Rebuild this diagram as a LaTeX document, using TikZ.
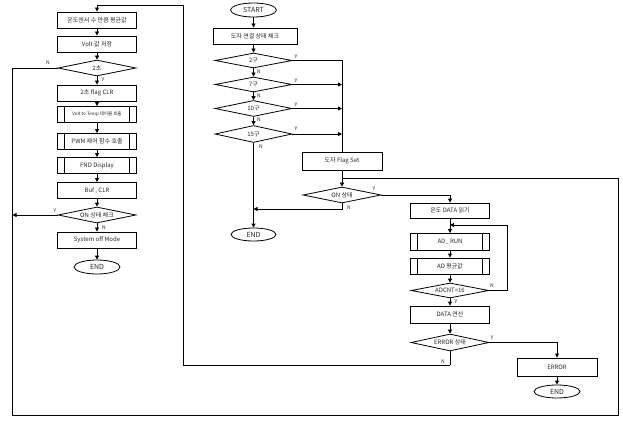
\documentclass[tikz,border=0pt]{standalone}
\usepackage{fontspec}
\setmainfont{Noto Sans CJK KR}
\usetikzlibrary{shapes.geometric,arrows.meta}
\begin{document}
\begin{tikzpicture}[x=1pt,y=-1pt,
  every node/.style={font=\fontsize{6}{7}\selectfont, text=black!85},
  box/.style={draw, line width=0.9pt, minimum width=79pt, minimum height=16pt, inner sep=1pt},
  sub/.style={box, path picture={\draw[line width=0.9pt]
      ([xshift=7pt]path picture bounding box.north west) -- ([xshift=7pt]path picture bounding box.south west)
      ([xshift=-7pt]path picture bounding box.north east) -- ([xshift=-7pt]path picture bounding box.south east);}},
  dia/.style={draw, line width=0.8pt, diamond, aspect=5, minimum width=78pt, minimum height=16pt, inner sep=0pt},
  term/.style={draw, line width=0.8pt, ellipse, minimum width=46pt, minimum height=14pt, inner sep=0pt, font=\fontsize{7}{8}\selectfont},
  con/.style={line width=0.8pt},
  arr/.style={con, -{Triangle[length=4pt,width=4pt]}},
  lab/.style={font=\fontsize{5}{6}\selectfont, inner sep=0pt}
]
\useasboundingbox (0,0) rectangle (623,422);
% left column
\node[box] (l1) at (97,20) {온도센서 수 만큼 평균값};
\node[box] (l2) at (97,44) {Volt 값 저장};
\node[dia] (ld1) at (97,68) {2초};
\node[box] (l3) at (97,93) {2초 flag CLR};
\node[sub, font=\fontsize{4.5}{5}\selectfont] (l4) at (97,114.5) {Volt to Temp 테이블 호출};
\node[sub] (l5) at (97,141.5) {PWM 제어 함수 호출};
\node[sub] (l6) at (97,165.5) {FND Display};
\node[box] (l7) at (97,190.5) {Buf , CLR};
\node[dia] (ld2) at (97,215) {ON 상태 체크};
\node[box] (l8) at (97,240) {System off Mode};
\node[term] (lend) at (97,267) {END};
% middle column
\node[term] (start) at (253.5,10) {START};
\node[box, minimum width=84pt] (m1) at (255,36) {도자 연결 상태 체크};
\node[dia, minimum width=77pt, minimum height=15pt] (d2) at (253.5,60.5) {2구};
\node[dia, minimum width=77pt, minimum height=15pt] (d7) at (253.5,84.5) {7구};
\node[dia, minimum width=77pt, minimum height=16pt] (d10) at (253.5,108.5) {10구};
\node[dia, minimum width=77pt, minimum height=17pt] (d15) at (253.5,134) {15구};
\node[term, minimum width=45pt, minimum height=13pt] (mend) at (253.5,234.5) {END};
\node[box, minimum width=80pt, minimum height=18pt] (flag) at (342,161) {도자 Flag Set};
\node[dia] (on) at (342,195) {ON 상태};
% right column
\node[box, minimum height=15pt] (r1) at (450,210.5) {온도 DATA 읽기};
\node[sub, minimum height=17pt] (r2) at (450,242) {AD\_ RUN};
\node[sub] (r3) at (450,266) {AD 평균값};
\node[dia, minimum height=15pt] (r4) at (450,290.5) {ADCNT=16};
\node[box, minimum height=17pt] (r5) at (450,314.5) {DATA 연산};
\node[dia, minimum height=17pt] (r6) at (450,342.5) {ERROR 상태};
\node[box, minimum width=80pt, minimum height=18pt] (r7) at (557,367) {ERROR};
\node[term, minimum height=13pt] (rend) at (557,391.5) {END};
% coordinates
\coordinate (jy2) at (342,60.5);
\coordinate (jy7) at (342,84.5);
\coordinate (jy10) at (342,108.5);
\coordinate (jy15) at (342,134);
\coordinate (jn1) at (342,209);
\coordinate (jn2) at (253.5,209);
\coordinate (jo) at (450,195);
\coordinate (jl1) at (507,290.5);
\coordinate (jl2) at (507,225);
\coordinate (jl3) at (450,225);
\coordinate (je1) at (557,342.5);
\coordinate (jb1) at (450,365);
\coordinate (jb2) at (183,365);
\coordinate (jb3) at (183,5);
\coordinate (jb4) at (97,5);
\coordinate (o1) at (12.5,68);
\coordinate (o2) at (12.5,415);
\coordinate (o3) at (618,415);
\coordinate (o4) at (618,178);
\coordinate (o5) at (342,178);
\coordinate (o6) at (12.5,215);
% left connectors
\draw[arr] (jb1) -- (jb2) -- (jb3) -- (jb4) -- (l1.north);
\draw[arr] (l1.south) -- (l2.north);
\draw[arr] (l2.south) -- (ld1.north);
\draw[arr] (ld1.south) -- (l3.north);
\draw[arr] (l3.south) -- (l4.north);
\draw[arr] (l4.south) -- (l5.north);
\draw[arr] (l5.south) -- (l6.north);
\draw[arr] (l6.south) -- (l7.north);
\draw[arr] (l7.south) -- (ld2.north);
\draw[arr] (ld2.south) -- (l8.north);
\draw[arr] (l8.south) -- (lend.north);
\draw[con] (ld1.west) -- (o1) -- (o2) -- (o3) -- (o4) -- (o5);
\draw[arr] (ld2.west) -- (o6);
% middle connectors
\draw[arr] (start.south) -- (start |- m1.north);
\draw[arr] (d2 |- m1.south) -- (d2.north);
\draw[arr] (d2.south) -- (d7.north);
\draw[arr] (d7.south) -- (d10.north);
\draw[arr] (d10.south) -- (d15.north);
\draw[arr] (d15.south) -- (mend.north);
\draw[con] (d2.east) -- (jy2) -- (flag.north);
\draw[arr] (d7.east) -- (jy7);
\draw[arr] (d10.east) -- (jy10);
\draw[arr] (d15.east) -- (jy15);
\draw[arr] (flag.south) -- (on.north);
\draw[arr] (on.south) -- (jn1) -- (jn2);
\draw[arr] (on.east) -- (jo) -- (r1.north);
% right connectors
\draw[arr] (r1.south) -- (r2.north);
\draw[arr] (r2.south) -- (r3.north);
\draw[arr] (r3.south) -- (r4.north);
\draw[arr] (r4.south) -- (r5.north);
\draw[arr] (r5.south) -- (r6.north);
\draw[arr] (r4.east) -- (jl1) -- (jl2) -- (jl3);
\draw[arr] (r6.east) -- (je1) -- (r7.north);
\draw[arr] (r7.south) -- (rend.north);
\draw[con] (r6.south) -- (jb1);
% labels
\node[lab] at (48,63) {N};
\node[lab] at (103,80) {y};
\node[lab] at (55,211) {Y};
\node[lab] at (104,228) {N};
\node[lab] at (296,57) {y};
\node[lab] at (296,81) {y};
\node[lab] at (296,105) {y};
\node[lab] at (296,129) {y};
\node[lab] at (259,72) {N};
\node[lab] at (259,96) {N};
\node[lab] at (259,120) {N};
\node[lab] at (261,147) {N};
\node[lab] at (374,189) {y};
\node[lab] at (349,208) {N};
\node[lab] at (492,286) {N};
\node[lab] at (456,302) {y};
\node[lab] at (492,338) {y};
\node[lab] at (443,362) {N};
\end{tikzpicture}
\end{document}
